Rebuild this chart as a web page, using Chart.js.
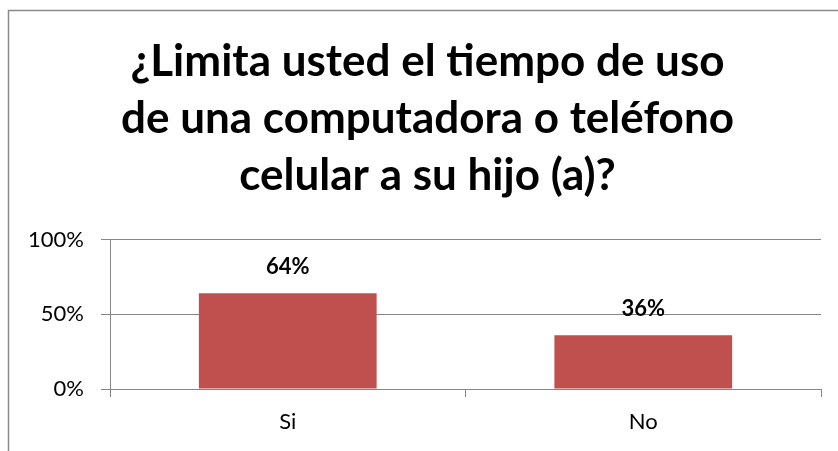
<!DOCTYPE html>
<html lang="es">
<head>
    <meta charset="UTF-8">
    <title>Limita el tiempo de uso</title>
    <script src="https://cdn.jsdelivr.net/npm/chart.js"></script>
    <style>
        html, body { margin: 0; padding: 0; background: #fff; }
        #wrap { width: 838px; height: 451px; position: relative; }
    </style>
</head>
<body>
    <div id="wrap"><canvas id="usoChart" width="838" height="451"></canvas></div>

    <script>
        // Respuestas de la encuesta
        const categories = ["Si", "No"];
        const shares = [0.64, 0.36];
        const yTicks = [0, 0.5, 1];
        const titleLines = [
            "¿Limita usted el tiempo de uso",
            "de una computadora o teléfono",
            "celular a su hijo (a)?"
        ];

        const pct = v => Math.round(v * 100) + "%";

        // Marco gris (borde superior e izquierdo) y titulo en tres lineas,
        // centrado sobre el marco completo y no solo sobre el lienzo
        const framePlugin = {
            id: "frame",
            beforeDraw(chart) {
                const ctx = chart.ctx;
                ctx.save();
                ctx.strokeStyle = "#8a8a8a";
                ctx.lineWidth = 1.5;
                ctx.beginPath();
                ctx.moveTo(8.5, 451);
                ctx.lineTo(8.5, 10.5);
                ctx.lineTo(838, 10.5);
                ctx.stroke();

                ctx.fillStyle = "#000";
                ctx.font = "bold 44px Lato";
                ctx.textAlign = "center";
                ctx.textBaseline = "alphabetic";
                titleLines.forEach((line, i) => {
                    ctx.fillText(line, 427.5, 76 + i * 57);
                });
                ctx.restore();
            }
        };

        // Etiquetas de porcentaje sobre cada barra
        const valueLabels = {
            id: "valueLabels",
            afterDatasetsDraw(chart) {
                const ctx = chart.ctx;
                const meta = chart.getDatasetMeta(0);
                ctx.save();
                ctx.font = "bold 22px Lato";
                ctx.fillStyle = "#000";
                ctx.textAlign = "center";
                ctx.textBaseline = "middle";
                meta.data.forEach((bar, i) => {
                    ctx.fillText(pct(shares[i]), bar.x, bar.y - 26);
                });
                ctx.restore();
            }
        };

        const ctx = document.getElementById("usoChart").getContext("2d");
        new Chart(ctx, {
            type: "bar",
            data: {
                labels: categories,
                datasets: [{
                    data: shares,
                    backgroundColor: "#C0504D",
                    barPercentage: 0.5,
                    categoryPercentage: 1.0
                }]
            },
            options: {
                responsive: false,
                animation: false,
                layout: {
                    padding: { left: 0, right: 17, top: 239.5, bottom: 0 }
                },
                plugins: {
                    legend: { display: false },
                    tooltip: { enabled: false },
                    title: { display: false }
                },
                scales: {
                    x: {
                        grid: {
                            offset: true,
                            drawOnChartArea: false,
                            drawTicks: true,
                            tickLength: 8,
                            color: "#868686"
                        },
                        border: { display: true, color: "#868686" },
                        ticks: {
                            color: "#000",
                            font: { family: "Lato", size: 22 },
                            padding: 12
                        },
                        afterFit(scale) { scale.height = 62; }
                    },
                    y: {
                        min: 0,
                        max: 1,
                        afterBuildTicks(scale) {
                            scale.ticks = yTicks.map(v => ({ value: v }));
                        },
                        grid: {
                            color: "#868686",
                            tickLength: 9
                        },
                        border: { display: true, color: "#868686" },
                        ticks: {
                            color: "#000",
                            font: { family: "Lato", size: 22 },
                            padding: 17,
                            callback: v => pct(v)
                        },
                        afterFit(scale) { scale.width = 110; }
                    }
                }
            },
            plugins: [framePlugin, valueLabels]
        });
    </script>
</body>
</html>
